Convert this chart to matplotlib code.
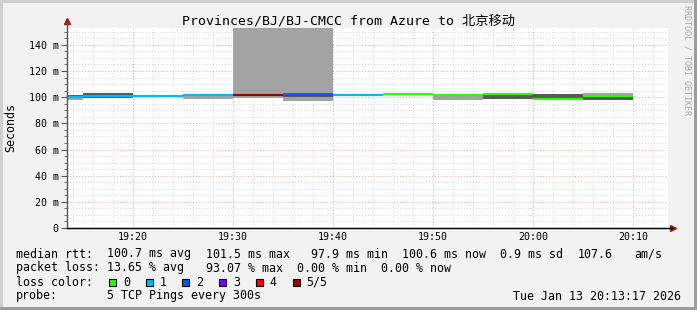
import numpy as np
import matplotlib
matplotlib.use('Agg')
import matplotlib.pyplot as plt
from matplotlib.patches import Rectangle

# data (minutes after 19:00, 5 min steps)
seg_start = [10, 15, 20, 25, 30, 35, 40, 45, 50, 55, 60, 65]
median = [100.4, 101.2, 101.1, 101.3, 101.4, 101.4, 101.8, 102.2, 101.8, 102.2, 98.7, 101.2]
loss_idx = [1, 1, 1, 1, 5, 2, 1, 0, 0, 0, 0, 0]
smoke_lo = [98.2, 99.2, 100.6, 98.9, 99.2, 97.4, 101.0, 101.5, 97.9, 98.7, 97.9, 97.9]
smoke_hi = [102.0, 103.0, 101.6, 102.5, 200.0, 200.0, 102.4, 102.6, 102.3, 103.0, 102.3, 103.0]
core_lo = [99.6, 99.2, 100.6, 100.6, 100.6, 100.0, 101.0, 101.5, 101.0, 98.7, 97.9, 97.9]
core_hi = [101.5, 103.0, 101.6, 101.6, 101.6, 103.5, 102.4, 102.6, 102.3, 103.0, 102.3, 100.5]

loss_colors = ['#26ff00', '#00b8ff', '#0059ff', '#7e00ff', '#ff0000', '#a10000']
loss_labels = ['0', '1', '2', '3', '4', '5/5']

xticks = [20, 30, 40, 50, 60, 70]
xlabels = ['19:20', '19:30', '19:40', '19:50', '20:00', '20:10']
yticks = [0, 20, 40, 60, 80, 100, 120, 140]
ylabels = ['0', '20 m', '40 m', '60 m', '80 m', '100 m', '120 m', '140 m']

# legend rows: (column in characters, text)
rtt_row = [(0, 'median rtt:'), (13, '100.7 ms avg'), (27, '101.5 ms max'), (42, '97.9 ms min'),
           (55, '100.6 ms now'), (69, '0.9 ms sd'), (80, '107.6'), (88, 'am/s')]
loss_row = [(0, 'packet loss:'), (13, '13.65 % avg'), (27, '93.07 % max'), (40, '0.00 % min'),
            (52, '0.00 % now')]
probe_row = [(0, 'probe:'), (13, '5 TCP Pings every 300s')]
stamp = 'Tue Jan 13 20:13:17 2026'

W, H = 697, 310
mono = ['DejaVu Sans Mono', 'Noto Sans CJK SC']
plt.rcParams['font.family'] = mono

fig = plt.figure(figsize=(W / 100, H / 100), dpi=100, facecolor='#f2f2f2')

# 3d-ish frame
fig.patches.append(Rectangle((0, 0), 3 / W, 1, transform=fig.transFigure, fc='#cfcfcf', ec='none'))
fig.patches.append(Rectangle((0, 1 - 3 / H), 1, 3 / H, transform=fig.transFigure, fc='#cfcfcf', ec='none'))
fig.patches.append(Rectangle((1 - 3 / W, 0), 3 / W, 1, transform=fig.transFigure, fc='#9c9c9c', ec='none'))
fig.patches.append(Rectangle((0, 0), 1, 3 / H, transform=fig.transFigure, fc='#9c9c9c', ec='none'))

ax = fig.add_axes([67 / W, (H - 228) / H, (668 - 67) / W, 200 / H])
ax.set_facecolor('white')
ax.set_xlim(13.4, 73.5)
ax.set_ylim(0, 152.9)

for i, t0 in enumerate(seg_start):
    t1 = t0 + 5
    ax.fill_between([t0, t1], smoke_lo[i], smoke_hi[i], color='#a3a3a3', lw=0, zorder=2)
    ax.fill_between([t0, t1], core_lo[i], core_hi[i], color='#5a5a5a', lw=0, zorder=2.1)
    ax.hlines(median[i], t0, t1, color=loss_colors[loss_idx[i]], lw=1.5, zorder=3)

# grid
ax.set_xticks(xticks)
ax.set_xticklabels(xlabels)
ax.set_xticks(np.arange(14, 74, 2), minor=True)
ax.set_yticks(yticks)
ax.set_yticklabels(ylabels)
ax.set_yticks(np.arange(0, 153, 5), minor=True)
ax.grid(True, which='minor', color='#d4d4d4', ls=(0, (1, 2)), lw=0.7, zorder=1)
ax.grid(True, which='major', color='#e4a4a4', ls=(0, (1, 2)), lw=0.7, zorder=1.1)
ax.tick_params(which='major', length=4, width=0.8, color='#555555', labelsize=7.2, pad=2)
ax.tick_params(which='minor', length=2, width=0.6, color='#555555')
ax.tick_params(axis='x', which='both', length=0, pad=3)

for s in ['top', 'right', 'left']:
    ax.spines[s].set_visible(False)
ax.spines['bottom'].set_color('black')
ax.plot([0, 0], [0, 1.03], transform=ax.transAxes, color='#555555', lw=1, clip_on=False, zorder=4)
ax.plot([0, 1.006], [0, 0], transform=ax.transAxes, color='black', lw=1, clip_on=False, zorder=4)
ax.plot([0], [1.035], marker='^', ms=5, color='#9b1b1b', transform=ax.transAxes, clip_on=False)
ax.plot([1.008], [0], marker='>', ms=5, color='#9b1b1b', transform=ax.transAxes, clip_on=False)

fig.text(348 / W, 1 - 21 / H, 'Provinces/BJ/BJ-CMCC from Azure to 北京移动', ha='center', va='center',
         fontsize=9.5, family=mono)
fig.text(11 / W, 1 - 128 / H, 'Seconds', rotation=90, ha='center', va='center', fontsize=8.4)
fig.text(687 / W, 1 - 60 / H, 'RRDTOOL / TOBI OETIKER', rotation=270, ha='center', va='center',
         fontsize=6, color='#a8a8a8')

fs = 8.4
cw = 7.02  # character width in px


def put(x, y, s):
    fig.text(x / W, 1 - y / H, s, ha='left', va='center', fontsize=fs)


def row(items, y):
    for col, s in items:
        put(16 + col * cw, y, s)


row(rtt_row, 254)
row(loss_row, 268)
put(16, 282, 'loss color:')
box_x = [109, 145.7, 182.3, 219, 255.7, 292.7]
for bx, c, lab in zip(box_x, loss_colors, loss_labels):
    fig.patches.append(Rectangle((bx / W, 1 - 285.5 / H), 7 / W, 7 / H, transform=fig.transFigure,
                                 fc=c, ec='black', lw=0.8))
    put(bx + 14, 282, lab)
row(probe_row, 296)
fig.text(681 / W, 1 - 296 / H, stamp, ha='right', va='center', fontsize=fs)

fig.savefig('out.png', dpi=100, facecolor=fig.get_facecolor())
